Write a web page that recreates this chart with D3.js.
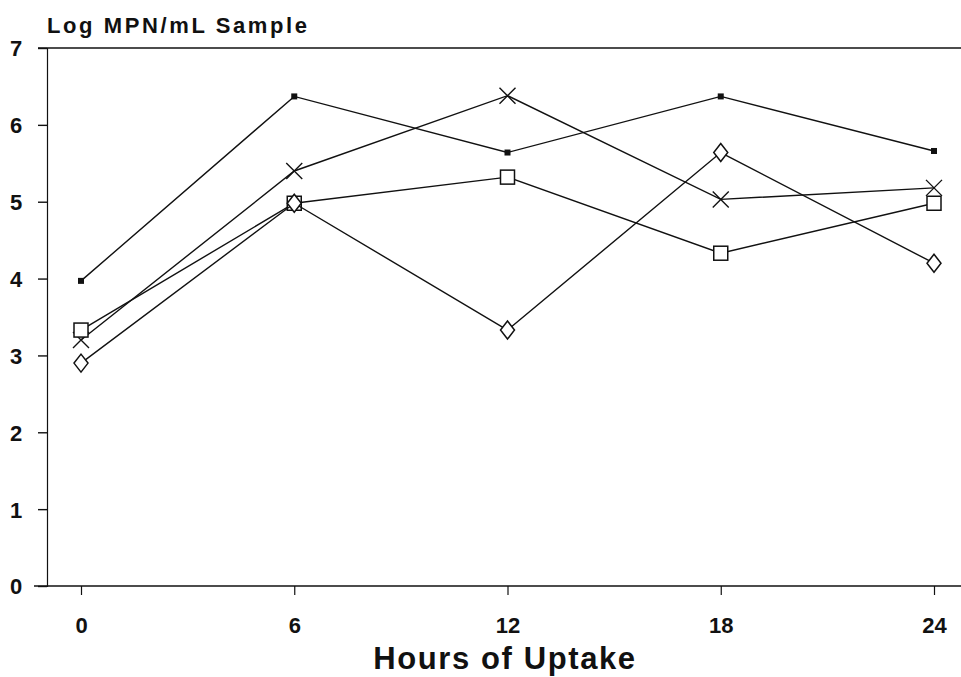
<!DOCTYPE html>
<html>
<head>
<meta charset="utf-8">
<script src="https://cdn.jsdelivr.net/npm/d3@7"></script>
<style>
  body { margin: 0; background: #fff; }
  text { font-family: "Liberation Sans", Arial, sans-serif; fill: #111; }
</style>
</head>
<body>
<div id="chart"></div>
<script>
var hours = [0, 6, 12, 18, 24];
var yTicks = [0, 1, 2, 3, 4, 5, 6, 7];
var dotSeries = [3.97, 6.37, 5.64, 6.37, 5.66];
var crossSeries = [3.2, 5.4, 6.38, 5.03, 5.18];
var squareSeries = [3.33, 4.98, 5.32, 4.33, 4.98];
var diamondSeries = [2.9, 4.98, 3.33, 5.64, 4.2];

var width = 961, height = 677;

var svg = d3.select("#chart").append("svg")
  .attr("width", width)
  .attr("height", height);

var x = d3.scaleLinear().domain([0, 24]).range([81, 934]);
var y = d3.scaleLinear().domain([0, 7]).range([586, 48]);

// frame lines: top, bottom and left
svg.append("line")
  .attr("x1", 38).attr("x2", width)
  .attr("y1", y(7)).attr("y2", y(7))
  .attr("stroke", "#111").attr("stroke-width", 1.6);
svg.append("line")
  .attr("x1", 34).attr("x2", width)
  .attr("y1", y(0)).attr("y2", y(0))
  .attr("stroke", "#111").attr("stroke-width", 1.6);

var yAxis = svg.append("g")
  .attr("transform", "translate(47,0)")
  .call(d3.axisLeft(y).tickValues(yTicks).tickSize(9).tickPadding(17).tickFormat(d3.format("d")));
yAxis.select(".domain").attr("stroke", "#111").attr("stroke-width", 1.2);
yAxis.selectAll(".tick line").attr("stroke", "#111").attr("stroke-width", 1.4);
yAxis.selectAll(".tick text")
  .attr("text-anchor", "middle")
  .attr("x", -31)
  .style("font-size", "22px").style("font-weight", "bold")
  .attr("dy", "0.36em");

var xAxis = svg.append("g")
  .attr("transform", "translate(0," + y(0) + ")")
  .call(d3.axisBottom(x).tickValues(hours).tickSize(9).tickPadding(16).tickFormat(d3.format("d")));
xAxis.select(".domain").remove();
xAxis.selectAll(".tick line").attr("stroke", "#111").attr("stroke-width", 1.2);
xAxis.selectAll(".tick text")
  .attr("dy", null)
  .attr("y", 47)
  .style("font-size", "22px").style("font-weight", "bold");

svg.append("text")
  .attr("x", 47).attr("y", 33)
  .style("font-size", "22px").style("font-weight", "bold")
  .style("letter-spacing", "2.6px")
  .text("Log MPN/mL Sample");

svg.append("text")
  .attr("x", 505).attr("y", 669)
  .attr("text-anchor", "middle")
  .style("font-size", "31px").style("font-weight", "bold")
  .style("letter-spacing", "1.6px")
  .text("Hours of Uptake");

var line = d3.line()
  .x(function(d, i) { return x(hours[i]); })
  .y(function(d) { return y(d); });

var series = [
  { name: "dot", values: dotSeries },
  { name: "cross", values: crossSeries },
  { name: "square", values: squareSeries },
  { name: "diamond", values: diamondSeries }
];

series.forEach(function(s) {
  svg.append("path")
    .datum(s.values)
    .attr("d", line)
    .attr("fill", "none")
    .attr("stroke", "#111")
    .attr("stroke-width", 1.4);

  var pts = svg.selectAll(".pt-" + s.name)
    .data(s.values)
    .enter()
    .append("g")
    .attr("class", "pt-" + s.name)
    .attr("transform", function(d, i) { return "translate(" + x(hours[i]) + "," + y(d) + ")"; });

  if (s.name == "dot") {
    pts.append("rect")
      .attr("x", -3).attr("y", -3).attr("width", 6).attr("height", 6)
      .attr("fill", "#111");
  } else if (s.name == "cross") {
    pts.append("path")
      .attr("d", "M-8,-8L8,8M-8,8L8,-8")
      .attr("stroke", "#111").attr("stroke-width", 1.4);
  } else if (s.name == "square") {
    pts.append("rect")
      .attr("x", -7).attr("y", -7).attr("width", 14).attr("height", 14)
      .attr("fill", "#fff").attr("stroke", "#111").attr("stroke-width", 1.5);
  } else {
    pts.append("path")
      .attr("d", "M0,-9L7,0L0,9L-7,0Z")
      .attr("fill", "#fff").attr("stroke", "#111").attr("stroke-width", 1.5);
  }
});
</script>
</body>
</html>
